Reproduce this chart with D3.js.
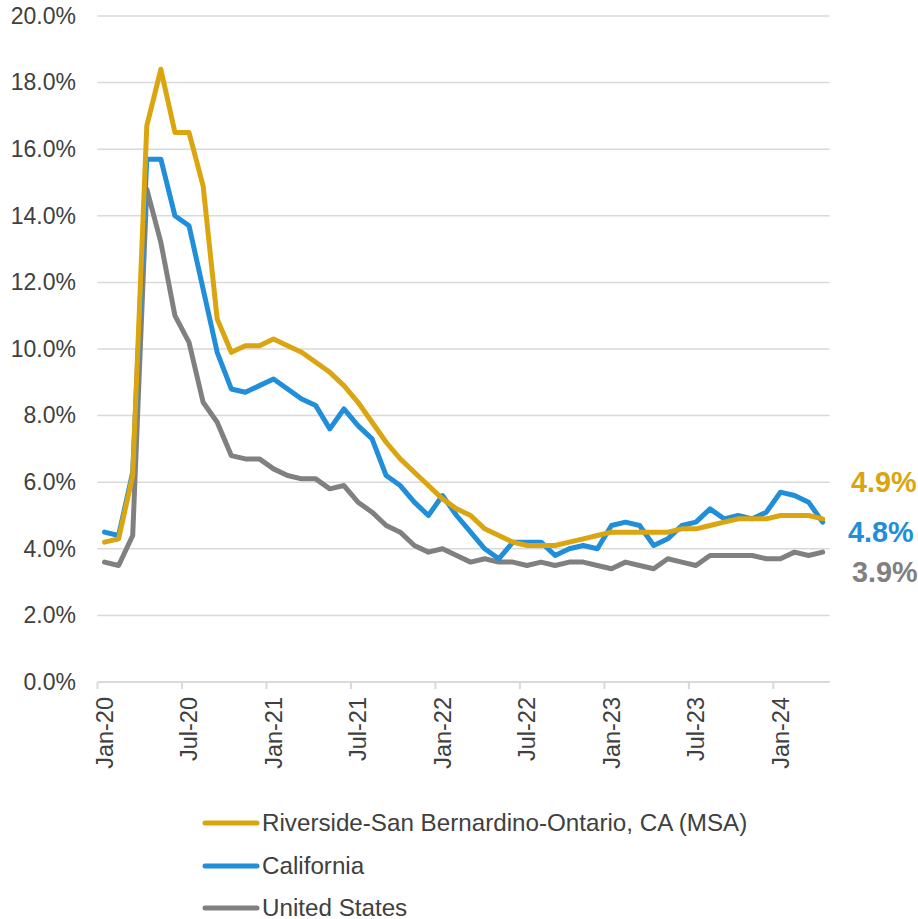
<!DOCTYPE html>
<html>
<head>
<meta charset="utf-8">
<script src="https://cdn.jsdelivr.net/npm/d3@7"></script>
<style>
  html, body { margin: 0; padding: 0; background: #fff; }
  svg { display: block; font-family: "Liberation Sans", Arial, sans-serif; }
</style>
</head>
<body>
<svg id="chart" width="918" height="919"></svg>
<script>
const months = [
  "Jan-20","Feb-20","Mar-20","Apr-20","May-20","Jun-20","Jul-20","Aug-20","Sep-20","Oct-20","Nov-20","Dec-20",
  "Jan-21","Feb-21","Mar-21","Apr-21","May-21","Jun-21","Jul-21","Aug-21","Sep-21","Oct-21","Nov-21","Dec-21",
  "Jan-22","Feb-22","Mar-22","Apr-22","May-22","Jun-22","Jul-22","Aug-22","Sep-22","Oct-22","Nov-22","Dec-22",
  "Jan-23","Feb-23","Mar-23","Apr-23","May-23","Jun-23","Jul-23","Aug-23","Sep-23","Oct-23","Nov-23","Dec-23",
  "Jan-24","Feb-24","Mar-24","Apr-24"
];
const tickLabels = ["Jan-20","Jul-20","Jan-21","Jul-21","Jan-22","Jul-22","Jan-23","Jul-23","Jan-24"];
const yTicks = [0, 2, 4, 6, 8, 10, 12, 14, 16, 18, 20];

const riverside = [
  4.2, 4.3, 6.2, 16.7, 18.4, 16.5, 16.5, 14.9, 10.9, 9.9, 10.1, 10.1,
  10.3, 10.1, 9.9, 9.6, 9.3, 8.9, 8.4, 7.8, 7.2, 6.7, 6.3, 5.9,
  5.5, 5.2, 5.0, 4.6, 4.4, 4.2, 4.1, 4.1, 4.1, 4.2, 4.3, 4.4,
  4.5, 4.5, 4.5, 4.5, 4.5, 4.6, 4.6, 4.7, 4.8, 4.9, 4.9, 4.9,
  5.0, 5.0, 5.0, 4.9
];
const california = [
  4.5, 4.4, 6.3, 15.7, 15.7, 14.0, 13.7, 11.8, 9.9, 8.8, 8.7, 8.9,
  9.1, 8.8, 8.5, 8.3, 7.6, 8.2, 7.7, 7.3, 6.2, 5.9, 5.4, 5.0,
  5.6, 5.0, 4.5, 4.0, 3.7, 4.2, 4.2, 4.2, 3.8, 4.0, 4.1, 4.0,
  4.7, 4.8, 4.7, 4.1, 4.3, 4.7, 4.8, 5.2, 4.9, 5.0, 4.9, 5.1,
  5.7, 5.6, 5.4, 4.8
];
const unitedStates = [
  3.6, 3.5, 4.4, 14.8, 13.2, 11.0, 10.2, 8.4, 7.8, 6.8, 6.7, 6.7,
  6.4, 6.2, 6.1, 6.1, 5.8, 5.9, 5.4, 5.1, 4.7, 4.5, 4.1, 3.9,
  4.0, 3.8, 3.6, 3.7, 3.6, 3.6, 3.5, 3.6, 3.5, 3.6, 3.6, 3.5,
  3.4, 3.6, 3.5, 3.4, 3.7, 3.6, 3.5, 3.8, 3.8, 3.8, 3.8, 3.7,
  3.7, 3.9, 3.8, 3.9
];
const seriesNames = ["Riverside-San Bernardino-Ontario, CA (MSA)", "California", "United States"];
const seriesColors = ["#DAA50F", "#218ED9", "#808080"];

const series = [riverside, california, unitedStates].map((vals, i) => ({
  name: seriesNames[i], color: seriesColors[i], values: vals
}));

const svg = d3.select("#chart");
const textColor = "#404040";
const gridColor = "#D9D9D9";

const x = d3.scaleBand().domain(months).range([97.5, 829.7]).paddingInner(0).paddingOuter(0);
const y = d3.scaleLinear().domain([0, 20]).range([682, 16]);
const cx = m => x(m) + x.bandwidth() / 2;

// gridlines
svg.append("g").selectAll("line").data(yTicks.filter(t => t > 0)).join("line")
  .attr("x1", x.range()[0]).attr("x2", x.range()[1])
  .attr("y1", d => y(d)).attr("y2", d => y(d))
  .attr("stroke", gridColor).attr("stroke-width", 1.5);

// y axis labels
const yAxis = d3.axisLeft(y).tickValues(yTicks).tickSize(0).tickPadding(0)
  .tickFormat(d => d.toFixed(1) + "%");
const yg = svg.append("g").attr("transform", "translate(76,0)").call(yAxis);
yg.select(".domain").remove();
yg.selectAll("text").attr("fill", textColor).style("font-size", "23px")
  .style("font-family", "'Liberation Sans', Arial, sans-serif");

// x axis line + ticks at category boundaries
const xg = svg.append("g");
xg.append("line").attr("x1", x.range()[0]).attr("x2", x.range()[1])
  .attr("y1", y(0)).attr("y2", y(0)).attr("stroke", gridColor).attr("stroke-width", 2);
xg.selectAll("line.tick").data(tickLabels).join("line").attr("class", "tick")
  .attr("x1", d => x(d)).attr("x2", d => x(d))
  .attr("y1", y(0)).attr("y2", y(0) + 7)
  .attr("stroke", gridColor).attr("stroke-width", 2);
xg.selectAll("text").data(tickLabels).join("text")
  .attr("transform", d => `translate(${cx(d)},697) rotate(-90)`)
  .attr("text-anchor", "end").attr("dy", "0.35em")
  .attr("fill", textColor).style("font-size", "23.5px")
  .text(d => d);

// lines
const line = d3.line().x((d, i) => cx(months[i])).y(d => y(d));
svg.append("g").selectAll("path").data(series.slice().reverse()).join("path")
  .attr("d", d => line(d.values))
  .attr("fill", "none").attr("stroke", d => d.color)
  .attr("stroke-width", 5).attr("stroke-linejoin", "round").attr("stroke-linecap", "round");

// end labels
const endY = [492, 542, 582];
const endX = [851, 848, 852];
svg.append("g").selectAll("text").data(series).join("text")
  .attr("x", (d, i) => endX[i]).attr("y", (d, i) => endY[i])
  .attr("fill", d => d.color).style("font-size", "28.8px").style("font-weight", "bold")
  .text(d => d.values[d.values.length - 1].toFixed(1) + "%");

// legend
const lg = svg.append("g");
const legY = [823, 866, 908];
const items = lg.selectAll("g").data(series).join("g")
  .attr("transform", (d, i) => `translate(0,${legY[i]})`);
items.append("line").attr("x1", 205).attr("x2", 257).attr("y1", 0).attr("y2", 0)
  .attr("stroke", d => d.color).attr("stroke-width", 5).attr("stroke-linecap", "round");
items.append("text").attr("x", 262).attr("y", 0).attr("dy", "0.35em")
  .attr("fill", textColor).style("font-size", "24.2px").text(d => d.name);
</script>
</body>
</html>
